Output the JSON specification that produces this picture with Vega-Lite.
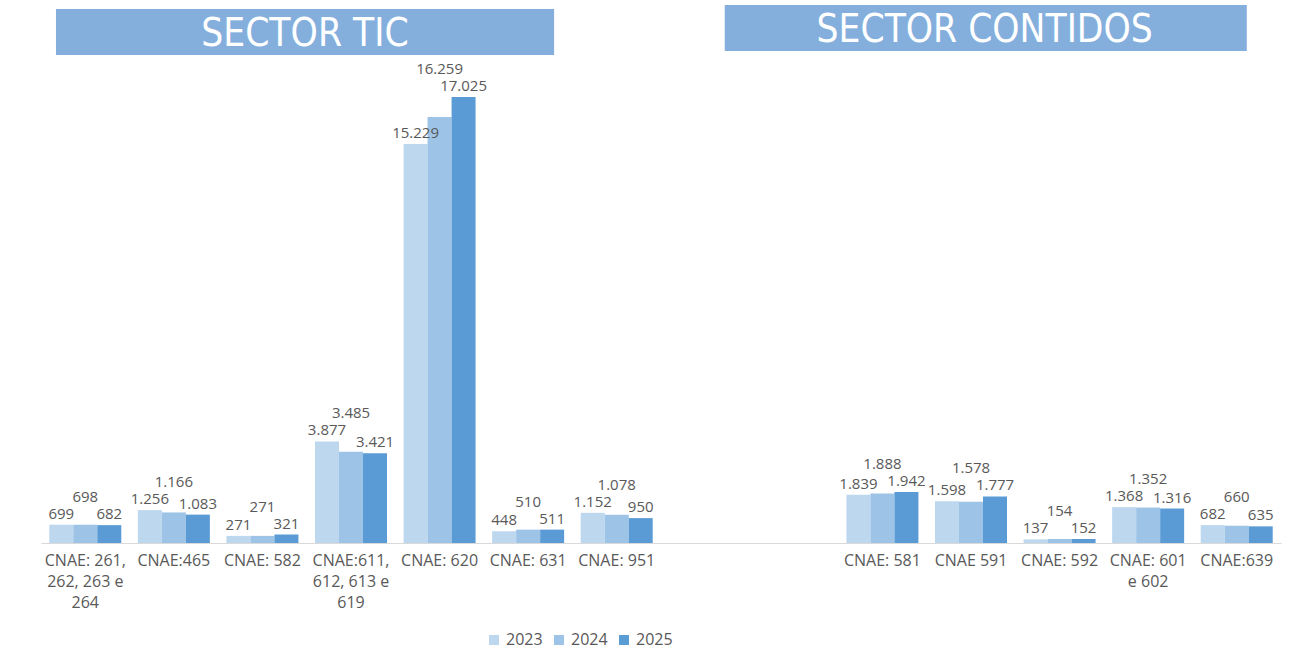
{
  "$schema": "https://vega.github.io/schema/vega-lite/v6.json",
  "width": 1240,
  "height": 543,
  "autosize": "none",
  "padding": {"left": 41, "top": 0, "right": 9, "bottom": 106},
  "background": "white",
  "config": {
    "view": {"stroke": null},
    "locale": {"number": {"decimal": ",", "thousands": ".", "grouping": [3], "currency": ["", " €"]}}
  },
  "datasets": {
    "counts": [
      {"category": "CNAE: 261,|262, 263 e|264", "year": "2023", "value": 699},
      {"category": "CNAE: 261,|262, 263 e|264", "year": "2024", "value": 698},
      {"category": "CNAE: 261,|262, 263 e|264", "year": "2025", "value": 682},
      {"category": "CNAE:465", "year": "2023", "value": 1256},
      {"category": "CNAE:465", "year": "2024", "value": 1166},
      {"category": "CNAE:465", "year": "2025", "value": 1083},
      {"category": "CNAE: 582", "year": "2023", "value": 271},
      {"category": "CNAE: 582", "year": "2024", "value": 271},
      {"category": "CNAE: 582", "year": "2025", "value": 321},
      {"category": "CNAE:611,|612, 613 e|619", "year": "2023", "value": 3877},
      {"category": "CNAE:611,|612, 613 e|619", "year": "2024", "value": 3485},
      {"category": "CNAE:611,|612, 613 e|619", "year": "2025", "value": 3421},
      {"category": "CNAE: 620", "year": "2023", "value": 15229},
      {"category": "CNAE: 620", "year": "2024", "value": 16259},
      {"category": "CNAE: 620", "year": "2025", "value": 17025},
      {"category": "CNAE: 631", "year": "2023", "value": 448},
      {"category": "CNAE: 631", "year": "2024", "value": 510},
      {"category": "CNAE: 631", "year": "2025", "value": 511},
      {"category": "CNAE: 951", "year": "2023", "value": 1152},
      {"category": "CNAE: 951", "year": "2024", "value": 1078},
      {"category": "CNAE: 951", "year": "2025", "value": 950},
      {"category": "CNAE: 581", "year": "2023", "value": 1839},
      {"category": "CNAE: 581", "year": "2024", "value": 1888},
      {"category": "CNAE: 581", "year": "2025", "value": 1942},
      {"category": "CNAE 591", "year": "2023", "value": 1598},
      {"category": "CNAE 591", "year": "2024", "value": 1578},
      {"category": "CNAE 591", "year": "2025", "value": 1777},
      {"category": "CNAE: 592", "year": "2023", "value": 137},
      {"category": "CNAE: 592", "year": "2024", "value": 154},
      {"category": "CNAE: 592", "year": "2025", "value": 152},
      {"category": "CNAE: 601|e 602", "year": "2023", "value": 1368},
      {"category": "CNAE: 601|e 602", "year": "2024", "value": 1352},
      {"category": "CNAE: 601|e 602", "year": "2025", "value": 1316},
      {"category": "CNAE:639", "year": "2023", "value": 682},
      {"category": "CNAE:639", "year": "2024", "value": 660},
      {"category": "CNAE:639", "year": "2025", "value": 635}
    ]
  },
  "encoding": {
    "x": {
      "field": "category",
      "type": "nominal",
      "sort": null,
      "scale": {
        "domain": ["CNAE: 261,|262, 263 e|264", "CNAE:465", "CNAE: 582", "CNAE:611,|612, 613 e|619", "CNAE: 620", "CNAE: 631", "CNAE: 951", "_gap1", "_gap2", "CNAE: 581", "CNAE 591", "CNAE: 592", "CNAE: 601|e 602", "CNAE:639"],
        "paddingInner": 0.187,
        "paddingOuter": 0.0935
      },
      "axis": {
        "title": null,
        "labelAngle": 0,
        "ticks": false,
        "domainColor": "#d9d9d9",
        "domainWidth": 1,
        "labelFont": "Open Sans",
        "labelFontSize": 16,
        "labelColor": "#595959",
        "labelLineHeight": 21,
        "labelPadding": 9,
        "labelOverlap": false,
        "labelLimit": 0,
        "labelExpr": "indexof(datum.label, '_') == 0 ? '' : split(datum.label, '|')"
      }
    }
  },
  "layer": [
    {
      "data": {"name": "counts"},
      "mark": {"type": "bar"},
      "encoding": {
        "xOffset": {"field": "year", "type": "nominal", "sort": ["2023", "2024", "2025"]},
        "y": {"field": "value", "type": "quantitative", "scale": {"domain": [0, 20725], "nice": false, "zero": true}, "axis": null},
        "color": {
          "field": "year",
          "type": "nominal",
          "scale": {"domain": ["2023", "2024", "2025"], "range": ["#BDD7EE", "#9DC3E6", "#5B9BD5"]},
          "legend": {
            "title": null,
            "orient": "none",
            "direction": "horizontal",
            "legendX": 445,
            "legendY": 632,
            "padding": 0,
            "symbolType": "square",
            "symbolSize": 100,
            "symbolStrokeWidth": 0,
            "labelFont": "Open Sans",
            "labelFontSize": 16,
            "labelColor": "#595959",
            "labelOffset": 4,
            "columnPadding": 8
          }
        }
      }
    },
    {
      "data": {"name": "counts"},
      "transform": [
        {"filter": "datum.year !== '2024'"}
      ],
      "mark": {
        "type": "text",
        "font": "Open Sans",
        "fontSize": 15,
        "color": "#595959",
        "baseline": "alphabetic",
        "dy": -6
      },
      "encoding": {
        "xOffset": {"field": "year", "type": "nominal", "sort": ["2023", "2024", "2025"]},
        "y": {"field": "value", "type": "quantitative"},
        "text": {"field": "value", "type": "quantitative", "format": ",d"}
      }
    },
    {
      "data": {"name": "counts"},
      "transform": [
        {"joinaggregate": [{"op": "max", "field": "value", "as": "groupMax"}], "groupby": ["category"]},
        {"filter": "datum.year === '2024'"}
      ],
      "mark": {
        "type": "text",
        "font": "Open Sans",
        "fontSize": 15,
        "color": "#595959",
        "baseline": "alphabetic",
        "dy": -23
      },
      "encoding": {
        "xOffset": {"field": "year", "type": "nominal", "sort": ["2023", "2024", "2025"]},
        "y": {"field": "groupMax", "type": "quantitative"},
        "text": {"field": "value", "type": "quantitative", "format": ",d"}
      }
    },
    {
      "data": {"values": [{"banner": "SECTOR TIC"}]},
      "mark": {"type": "rect", "color": "#84AFDD"},
      "encoding": {
        "x": {"datum": "CNAE: 261,|262, 263 e|264", "type": "nominal", "bandPosition": 0.093},
        "x2": {"datum": "CNAE: 631", "bandPosition": 0.86},
        "y": {"datum": 20382, "type": "quantitative"},
        "y2": {"datum": 18626}
      }
    },
    {
      "data": {"values": [{"banner": "SECTOR TIC"}]},
      "mark": {"type": "text", "color": "white", "font": "Liberation Sans Narrow, DejaVu Sans Condensed", "fontSize": 38.6, "baseline": "middle", "dy": 2},
      "encoding": {
        "x": {"datum": "CNAE: 582", "type": "nominal", "bandPosition": 1.09},
        "y": {"datum": 19504, "type": "quantitative"},
        "text": {"field": "banner", "type": "nominal"}
      }
    },
    {
      "data": {"values": [{"banner": "SECTOR CONTIDOS"}]},
      "mark": {"type": "rect", "color": "#84AFDD"},
      "encoding": {
        "x": {"datum": "_gap1", "type": "nominal", "bandPosition": 0.77},
        "x2": {"datum": "CNAE:639", "bandPosition": 0.64},
        "y": {"datum": 20534, "type": "quantitative"},
        "y2": {"datum": 18779}
      }
    },
    {
      "data": {"values": [{"banner": "SECTOR CONTIDOS"}]},
      "mark": {"type": "text", "color": "white", "font": "Liberation Sans Narrow, DejaVu Sans Condensed", "fontSize": 38.5, "baseline": "middle", "dy": 2},
      "encoding": {
        "x": {"datum": "CNAE 591", "type": "nominal", "bandPosition": 0.69},
        "y": {"datum": 19656, "type": "quantitative"},
        "text": {"field": "banner", "type": "nominal"}
      }
    }
  ]
}
